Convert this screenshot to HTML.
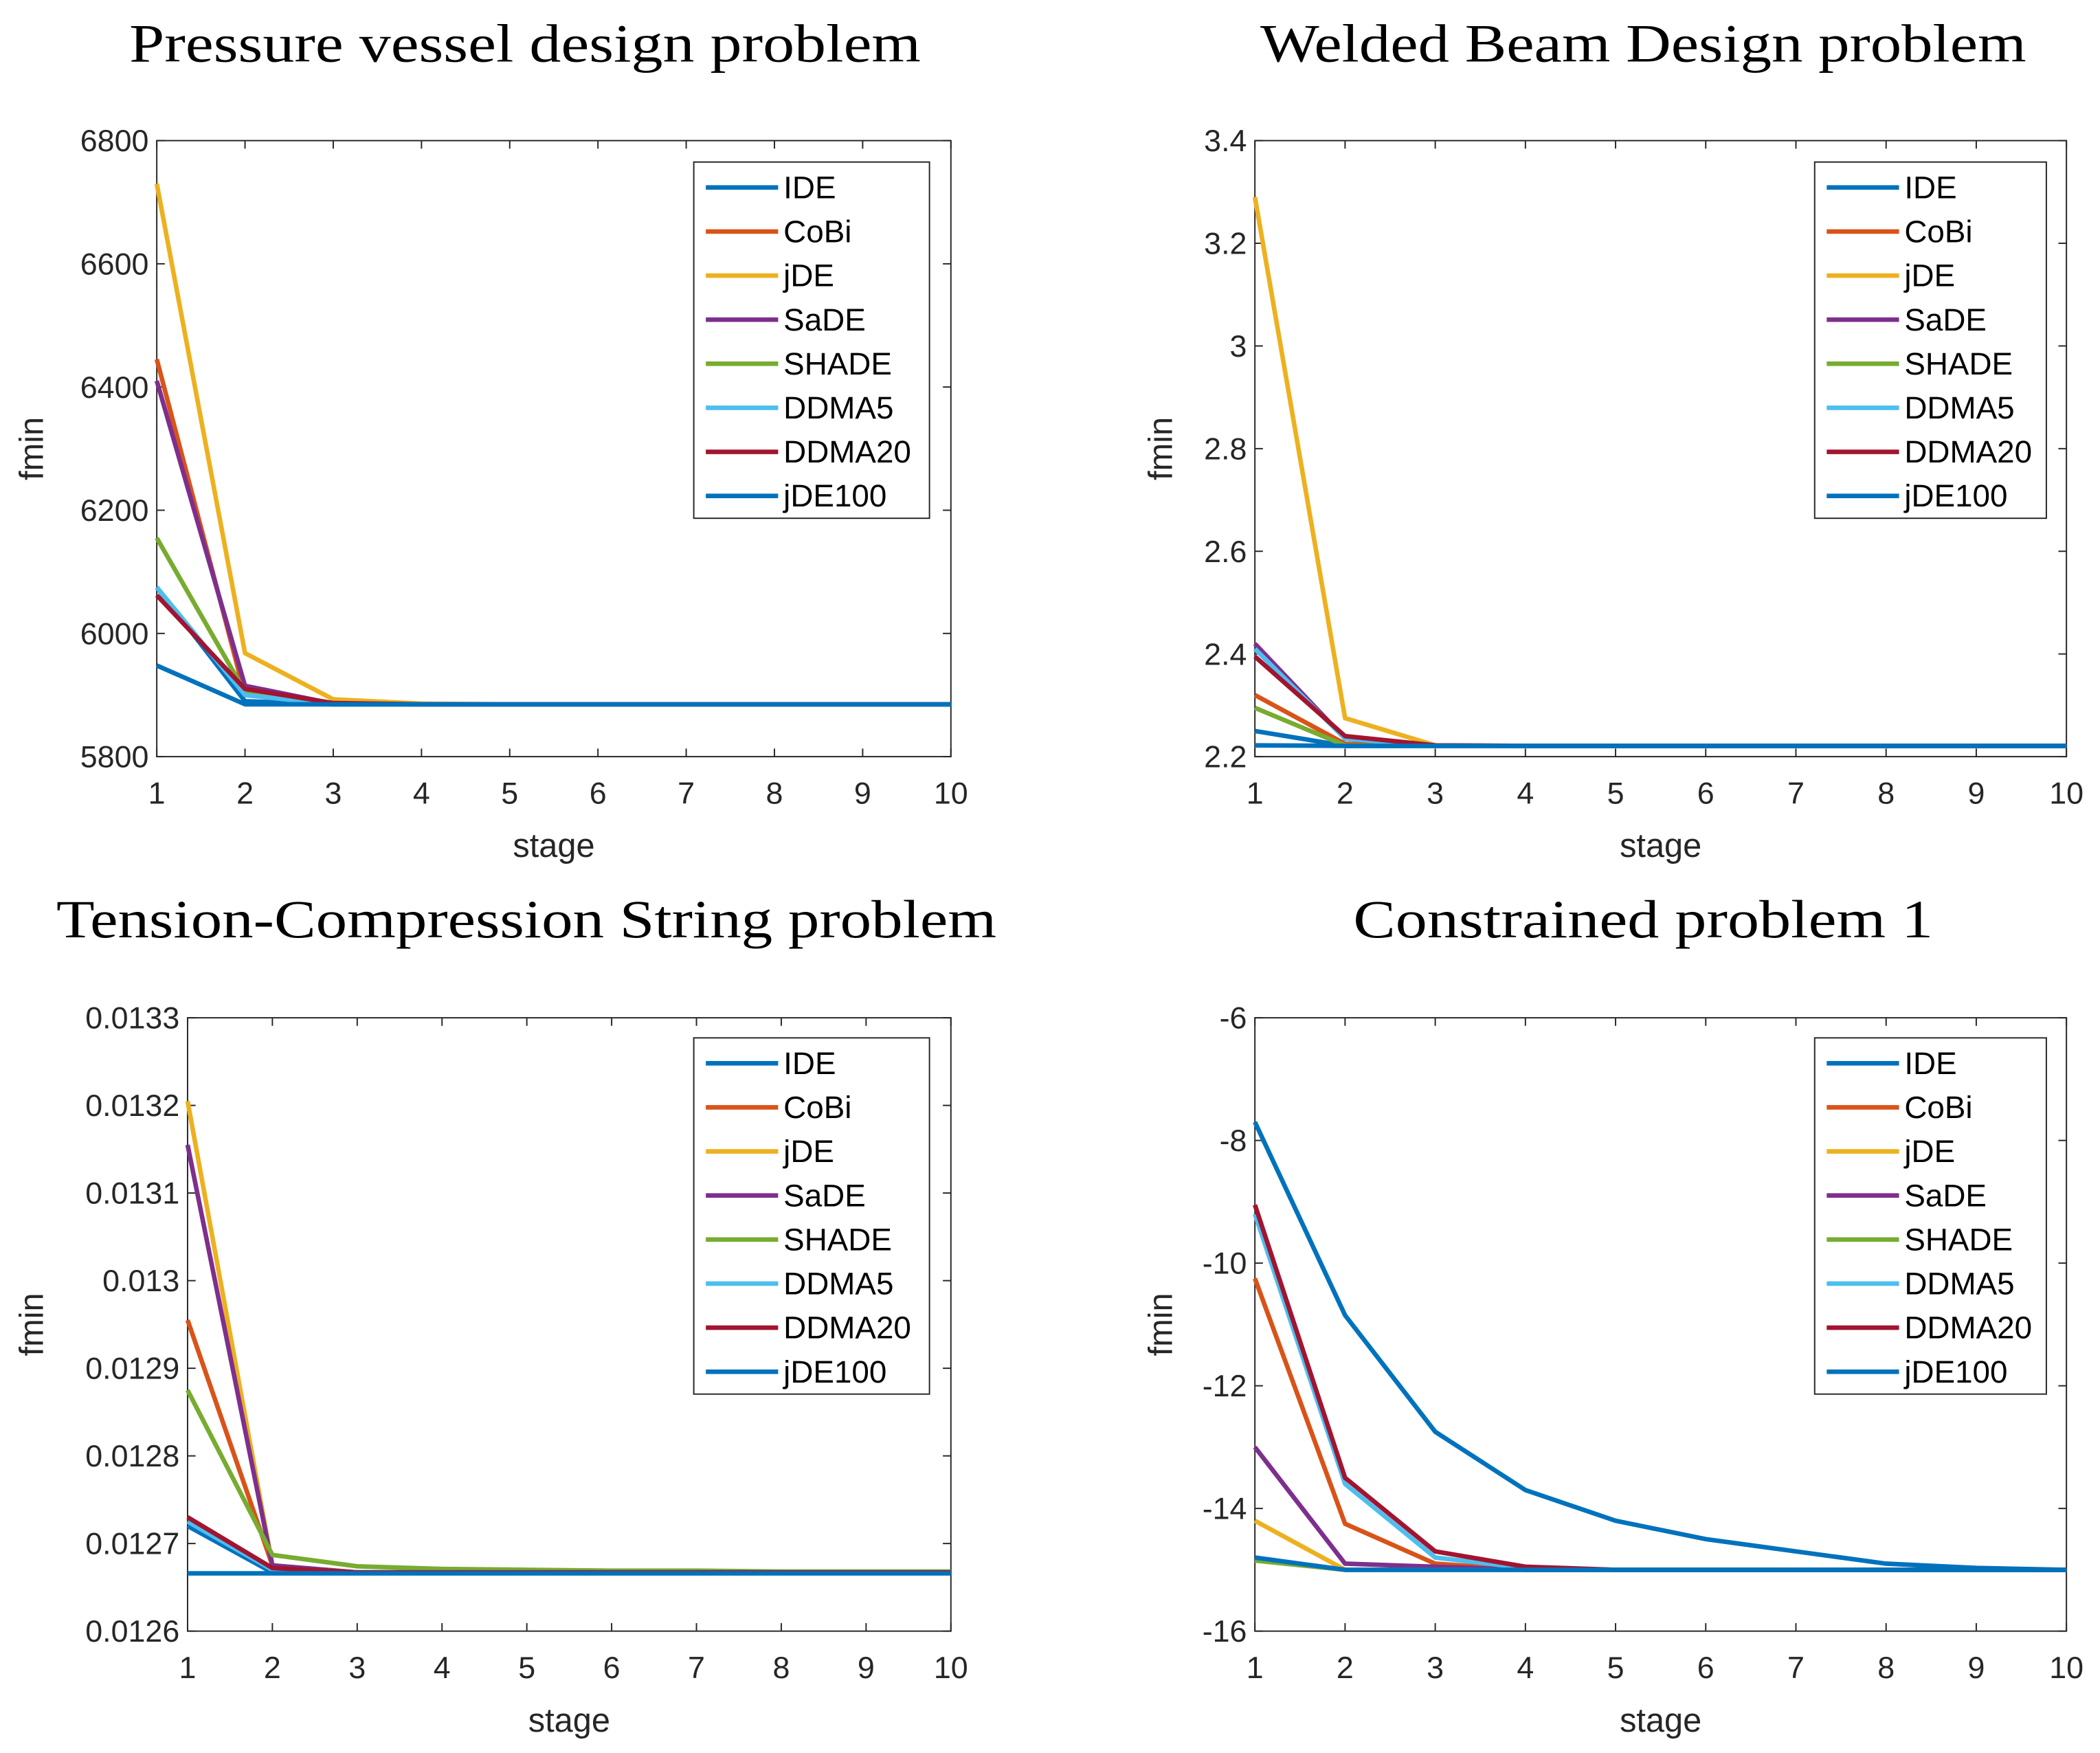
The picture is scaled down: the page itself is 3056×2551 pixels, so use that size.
<!DOCTYPE html>
<html><head><meta charset="utf-8"><style>
html,body{margin:0;padding:0;background:#fff;}
svg{display:block;}
</style></head><body>
<svg id="fig" width="3056" height="2551" viewBox="0 0 1568 1309" xmlns="http://www.w3.org/2000/svg"></svg>
<script>
const stages = [1,2,3,4,5,6,7,8,9,10];
const seriesNames = ["IDE","CoBi","jDE","SaDE","SHADE","DDMA5","DDMA20","jDE100"];
const seriesColors = ["#0072BD","#D95319","#EDB120","#7E2F8E","#77AC30","#4DBEEE","#A2142F","#0072BD"];

const p1Ticks = [5800,6000,6200,6400,6600,6800];
const p1IDE    = [6075,5890,5885,5885,5885,5885,5885,5885,5885,5885];
const p1CoBi   = [6445,5900,5885,5885,5885,5885,5885,5885,5885,5885];
const p1jDE    = [6730,5968,5893,5886,5885,5885,5885,5885,5885,5885];
const p1SaDE   = [6410,5915,5886,5885,5885,5885,5885,5885,5885,5885];
const p1SHADE  = [6155,5905,5885,5885,5885,5885,5885,5885,5885,5885];
const p1DDMA5  = [6075,5900,5885,5885,5885,5885,5885,5885,5885,5885];
const p1DDMA20 = [6062,5910,5887,5885,5885,5885,5885,5885,5885,5885];
const p1jDE100 = [5948,5885,5885,5885,5885,5885,5885,5885,5885,5885];

const p2Ticks = [2.2,2.4,2.6,2.8,3,3.2,3.4];
const p2IDE    = [2.25,2.221,2.221,2.221,2.221,2.221,2.221,2.221,2.221,2.221];
const p2CoBi   = [2.32,2.225,2.221,2.221,2.221,2.221,2.221,2.221,2.221,2.221];
const p2jDE    = [3.29,2.275,2.222,2.221,2.221,2.221,2.221,2.221,2.221,2.221];
const p2SaDE   = [2.42,2.235,2.221,2.221,2.221,2.221,2.221,2.221,2.221,2.221];
const p2SHADE  = [2.295,2.222,2.221,2.221,2.221,2.221,2.221,2.221,2.221,2.221];
const p2DDMA5  = [2.41,2.235,2.221,2.221,2.221,2.221,2.221,2.221,2.221,2.221];
const p2DDMA20 = [2.395,2.24,2.222,2.221,2.221,2.221,2.221,2.221,2.221,2.221];
const p2jDE100 = [2.222,2.221,2.221,2.221,2.221,2.221,2.221,2.221,2.221,2.221];

const p3Ticks = [0.0126,0.0127,0.0128,0.0129,0.013,0.0131,0.0132,0.0133];
const p3TickLabels = ["0.0126","0.0127","0.0128","0.0129","0.013","0.0131","0.0132","0.0133"];
const p3IDE    = [0.012720,0.012667,0.012667,0.012667,0.012667,0.012667,0.012667,0.012667,0.012667,0.012667];
const p3CoBi   = [0.012955,0.012675,0.012667,0.012667,0.012667,0.012667,0.012667,0.012667,0.012667,0.012667];
const p3jDE    = [0.013205,0.012675,0.012667,0.012667,0.012667,0.012667,0.012667,0.012667,0.012667,0.012667];
const p3SaDE   = [0.013155,0.012675,0.012667,0.012667,0.012667,0.012667,0.012667,0.012667,0.012667,0.012667];
const p3SHADE  = [0.012875,0.012687,0.012674,0.012671,0.012670,0.012669,0.012669,0.012668,0.012668,0.012668];
const p3DDMA5  = [0.012725,0.012670,0.012667,0.012667,0.012667,0.012667,0.012667,0.012667,0.012667,0.012667];
const p3DDMA20 = [0.012730,0.012672,0.012667,0.012667,0.012667,0.012667,0.012667,0.012667,0.012667,0.012667];
const p3jDE100 = [0.012666,0.012666,0.012666,0.012666,0.012666,0.012666,0.012666,0.012666,0.012666,0.012666];

const p4Ticks = [-16,-14,-12,-10,-8,-6];
const p4IDE    = [-7.7,-10.85,-12.75,-13.7,-14.2,-14.5,-14.7,-14.9,-14.97,-15];
const p4CoBi   = [-10.25,-14.25,-14.9,-15,-15,-15,-15,-15,-15,-15];
const p4jDE    = [-14.2,-15,-15,-15,-15,-15,-15,-15,-15,-15];
const p4SaDE   = [-13,-14.9,-14.95,-15,-15,-15,-15,-15,-15,-15];
const p4SHADE  = [-14.85,-15,-15,-15,-15,-15,-15,-15,-15,-15];
const p4DDMA5  = [-9.2,-13.6,-14.8,-14.97,-15,-15,-15,-15,-15,-15];
const p4DDMA20 = [-9.05,-13.5,-14.7,-14.95,-15,-15,-15,-15,-15,-15];
const p4jDE100 = [-14.8,-15,-15,-15,-15,-15,-15,-15,-15,-15];

const NS="http://www.w3.org/2000/svg";
const fig=document.getElementById('fig');
function mk(tag,attrs,parent){const e=document.createElementNS(NS,tag);for(const k in attrs)e.setAttribute(k,attrs[k]);(parent||fig).appendChild(e);return e;}

function panel(o){
  const g=mk('g',{});
  
  
  const L=o.x0,R=o.x1,T=o.y0,B=o.y1;
  const ymin=o.ticks[0],ymax=o.ticks[o.ticks.length-1];
  const sx=v=>L+(v-1)/9*(R-L);
  const sy=v=>B-(v-ymin)/(ymax-ymin)*(B-T);
  const t=mk('text',{x:o.tx,y:o.ty,'text-anchor':'middle','font-family':'"Liberation Serif",serif','font-size':40,fill:'#000',textLength:o.tl,lengthAdjust:'spacingAndGlyphs'},g);
  t.textContent=o.title;
  
  
  mk('rect',{x:L,y:T,width:R-L,height:B-T,fill:'#fff',stroke:'#262626','stroke-width':1},g);
  const tk=mk('g',{},g);
  
  
  stages.forEach(s=>{
    const x=sx(s);
    mk('line',{x1:x,y1:B,x2:x,y2:B-6,stroke:'#262626','stroke-width':1},tk);
    mk('line',{x1:x,y1:T,x2:x,y2:T+6,stroke:'#262626','stroke-width':1},tk);
    const l=mk('text',{x:x,y:B+35,'text-anchor':'middle','font-family':'"Liberation Sans",sans-serif','font-size':23,fill:'#262626'},tk);
    l.textContent=s;
    
    
  });
  o.ticks.forEach((v,i)=>{
    const y=sy(v);
    mk('line',{x1:L,y1:y,x2:L+6,y2:y,stroke:'#262626','stroke-width':1},tk);
    mk('line',{x1:R,y1:y,x2:R-6,y2:y,stroke:'#262626','stroke-width':1},tk);
    const l=mk('text',{x:L-6,y:y+8,'text-anchor':'end','font-family':'"Liberation Sans",sans-serif','font-size':23,fill:'#262626'},tk);
    l.textContent=o.labels?o.labels[i]:String(v);
    
    
  });
  const xl=mk('text',{x:(L+R)/2,y:B+75,'text-anchor':'middle','font-family':'"Liberation Sans",sans-serif','font-size':25,fill:'#262626'},g);
  xl.textContent='stage';
  
  
  const yl=mk('text',{x:0,y:0,transform:`translate(${o.ylx},${(T+B)/2}) rotate(-90)`,'text-anchor':'middle','font-family':'"Liberation Sans",sans-serif','font-size':25,fill:'#262626'},g);
  yl.textContent='fmin';
  
  
  o.series.forEach((arr,k)=>{
    const p=mk('polyline',{points:arr.map((v,i)=>sx(stages[i])+','+sy(v)).join(' '),fill:'none',stroke:seriesColors[k],'stroke-width':3.4,'stroke-linejoin':'round'},g);
    
    
  });
  const lg=mk('g',{},g);
  
  
  const lx=o.lx,ly=o.ly,lw=o.lw,lh=266;
  mk('rect',{x:lx,y:ly,width:lw,height:lh,fill:'#fff',stroke:'#262626','stroke-width':1},lg);
  seriesNames.forEach((n,k)=>{
    const yy=ly+19+k*32.9;
    const en=mk('g',{},lg);
    
    
    mk('line',{x1:lx+9,y1:yy,x2:lx+63,y2:yy,stroke:seriesColors[k],'stroke-width':3.4},en);
    const tt=mk('text',{x:lx+67,y:yy+8,'font-family':'"Liberation Sans",sans-serif','font-size':23.5,fill:'#000'},en);
    tt.textContent=n;
  });
}

panel({name:'pressure-vessel-panel',title:'Pressure vessel design problem',tl:591,tx:392,ty:46,x0:117,x1:710,y0:105,y1:565,ticks:p1Ticks,ylx:32,lx:518,ly:121,lw:176,
  series:[p1IDE,p1CoBi,p1jDE,p1SaDE,p1SHADE,p1DDMA5,p1DDMA20,p1jDE100]});
panel({name:'welded-beam-panel',title:'Welded Beam Design problem',tl:572,tx:1227,ty:46,x0:937,x1:1543,y0:105,y1:565,ticks:p2Ticks,ylx:875,lx:1355,ly:121,lw:173,
  series:[p2IDE,p2CoBi,p2jDE,p2SaDE,p2SHADE,p2DDMA5,p2DDMA20,p2jDE100]});
panel({name:'tension-compression-panel',title:'Tension-Compression String problem',tl:702,tx:393,ty:700,x0:140,x1:710,y0:760,y1:1218,ticks:p3Ticks,labels:p3TickLabels,ylx:32,lx:518,ly:775,lw:176,
  series:[p3IDE,p3CoBi,p3jDE,p3SaDE,p3SHADE,p3DDMA5,p3DDMA20,p3jDE100]});
panel({name:'constrained-problem-panel',title:'Constrained problem 1',tl:433,tx:1227,ty:700,x0:937,x1:1543,y0:760,y1:1218,ticks:p4Ticks,ylx:875,lx:1355,ly:775,lw:173,
  series:[p4IDE,p4CoBi,p4jDE,p4SaDE,p4SHADE,p4DDMA5,p4DDMA20,p4jDE100]});
</script>
</body></html>
